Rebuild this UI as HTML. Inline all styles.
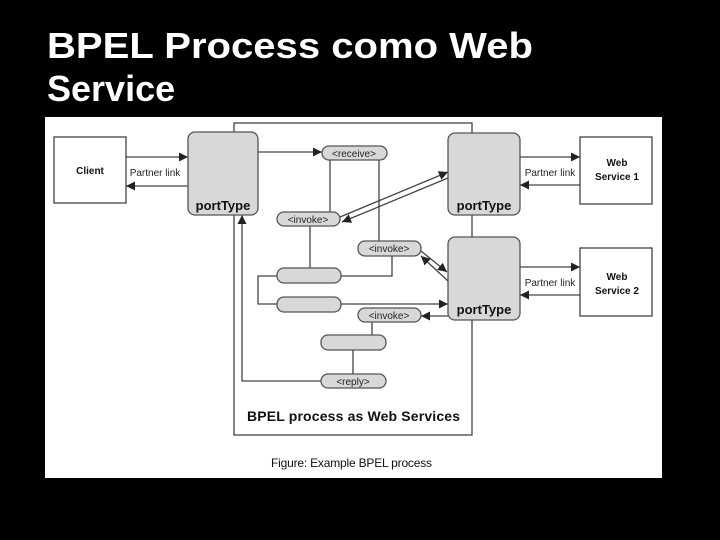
<!DOCTYPE html>
<html><head><meta charset="utf-8"><style>
body{margin:0;background:#000;width:720px;height:540px;overflow:hidden}
svg{display:block}
</style></head><body>
<svg width="720" height="540" xmlns="http://www.w3.org/2000/svg" font-family="Liberation Sans, sans-serif">
<defs>
<marker id="a" viewBox="0 0 10 10" refX="10" refY="5" markerWidth="7" markerHeight="7" orient="auto-start-reverse"><path d="M0,0L10,5L0,10z" fill="#222"/></marker>
</defs>
<rect width="720" height="540" fill="#000"/>
<text x="47" y="58" fill="#fff" font-size="36" font-weight="bold" textLength="486" lengthAdjust="spacingAndGlyphs">BPEL Process como Web</text>
<text x="47" y="101" fill="#fff" font-size="36" font-weight="bold">Service</text>
<rect x="45" y="117" width="617" height="361" fill="#fff"/>
<g stroke="#444" stroke-width="1.3" fill="none">
<rect x="234" y="123" width="238" height="312"/>
<rect x="54" y="137" width="72" height="66"/>
<rect x="580" y="137" width="72" height="67"/>
<rect x="580" y="248" width="72" height="68"/>
<!-- lines -->
<line x1="126" y1="157" x2="188" y2="157" marker-end="url(#a)"/>
<line x1="188" y1="186" x2="126" y2="186" marker-end="url(#a)"/>
<line x1="258" y1="152" x2="322" y2="152" marker-end="url(#a)"/>
<polyline points="321,381 242,381 242,215" marker-end="url(#a)"/>
<line x1="330" y1="160" x2="330" y2="212"/>
<line x1="379" y1="160" x2="379" y2="241"/>
<line x1="310" y1="226" x2="310" y2="268"/>
<polyline points="392,256 392,276 341,276"/>
<polyline points="277,276 258,276 258,304 277,304"/>
<line x1="341" y1="304" x2="448" y2="304" marker-end="url(#a)"/>
<line x1="448" y1="316" x2="421" y2="316" marker-end="url(#a)"/>
<line x1="372" y1="322" x2="372" y2="335"/>
<line x1="353" y1="350" x2="353" y2="374"/>
<line x1="340" y1="217" x2="448" y2="172" marker-end="url(#a)"/>
<line x1="448" y1="178" x2="342" y2="222" marker-end="url(#a)"/>
<line x1="421" y1="251" x2="447" y2="272" marker-end="url(#a)"/>
<line x1="448" y1="281" x2="421" y2="256" marker-end="url(#a)"/>
<line x1="520" y1="157" x2="580" y2="157" marker-end="url(#a)"/>
<line x1="580" y1="185" x2="520" y2="185" marker-end="url(#a)"/>
<line x1="520" y1="267" x2="580" y2="267" marker-end="url(#a)"/>
<line x1="580" y1="295" x2="520" y2="295" marker-end="url(#a)"/>
</g>
<g stroke="#555" stroke-width="1.3" fill="#d8d8d8">
<rect x="188" y="132" width="70" height="83" rx="7"/>
<rect x="448" y="133" width="72" height="82" rx="7"/>
<rect x="448" y="237" width="72" height="83" rx="7"/>
<rect x="322" y="146" width="65" height="14" rx="7"/>
<rect x="277" y="212" width="63" height="14" rx="7"/>
<rect x="358" y="241" width="63" height="15" rx="7"/>
<rect x="277" y="268" width="64" height="15" rx="7"/>
<rect x="277" y="297" width="64" height="15" rx="7"/>
<rect x="358" y="308" width="63" height="14" rx="7"/>
<rect x="321" y="335" width="65" height="15" rx="7"/>
<rect x="321" y="374" width="65" height="14" rx="7"/>
</g>
<g fill="#222" font-size="10" text-anchor="middle">
<text x="354" y="157">&lt;receive&gt;</text>
<text x="308" y="223">&lt;invoke&gt;</text>
<text x="389" y="252">&lt;invoke&gt;</text>
<text x="389" y="319">&lt;invoke&gt;</text>
<text x="353" y="385">&lt;reply&gt;</text>
<text x="155" y="176">Partner link</text>
<text x="550" y="176">Partner link</text>
<text x="550" y="286">Partner link</text>
</g>
<g fill="#111" font-size="13" font-weight="bold" text-anchor="middle">
<text x="223" y="210">portType</text>
<text x="484" y="210">portType</text>
<text x="484" y="314">portType</text>
</g>
<g fill="#111" font-size="10" font-weight="bold" text-anchor="middle">
<text x="90" y="174">Client</text>
<text x="617" y="166">Web</text>
<text x="617" y="180">Service 1</text>
<text x="617" y="280">Web</text>
<text x="617" y="294">Service 2</text>
</g>
<text x="247" y="421" fill="#111" font-size="14" font-weight="bold" textLength="213">BPEL process as Web Services</text>
<text x="271" y="467" fill="#111" font-size="12" textLength="161">Figure: Example BPEL process</text>
</svg>
</body></html>
